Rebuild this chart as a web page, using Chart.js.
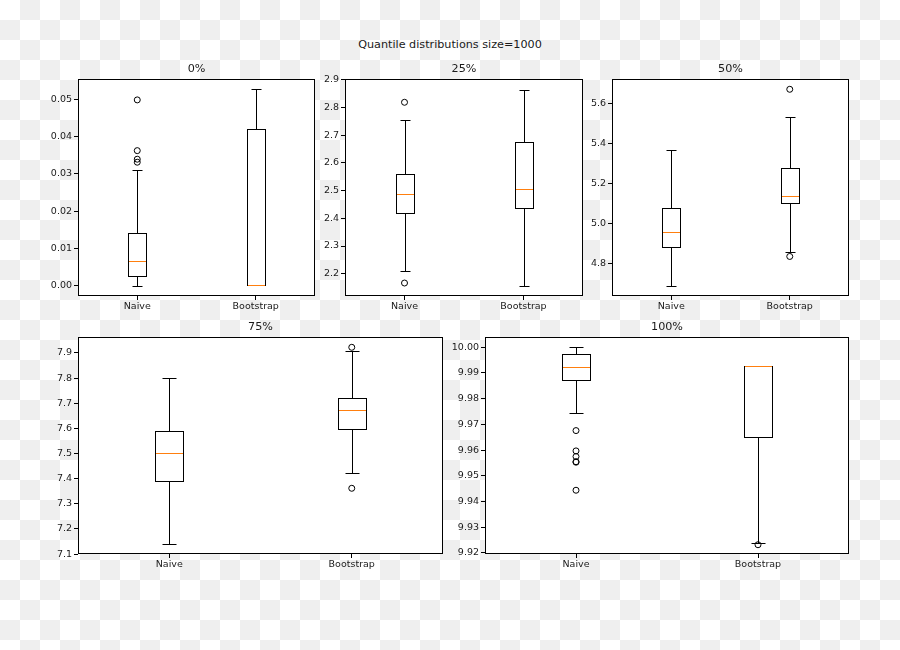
<!DOCTYPE html>
<html>
<head>
<meta charset="utf-8">
<script src="https://cdn.jsdelivr.net/npm/chart.js@4.4.1/dist/chart.umd.min.js"></script>
<style>
  html, body {
    margin: 0;
    padding: 0;
  }
  body {
    width: 900px;
    height: 650px;
    position: relative;
    overflow: hidden;
    background: repeating-conic-gradient(#efefef 0 25%, #ffffff 0 50%) 0 0 / 40px 40px;
    font-family: "DejaVu Sans", sans-serif;
  }
  #main-title {
    position: absolute;
    top: 38px;
    left: 0;
    width: 900px;
    text-align: center;
    font-size: 11.2px;
    color: #1a1a1a;
  }
  canvas {
    position: absolute;
  }
</style>
</head>
<body>
<div id="main-title">Quantile distributions size=1000</div>

<script>
// data
const categories = ["Naive", "Bootstrap"];
const titles = ["0%", "25%", "50%", "75%", "100%"];

// each row = one panel, [Naive, Bootstrap]
const whiskerLow = [[0.0, 0.0002], [2.2096, 2.1557], [4.6869, 4.8532], [7.1397, 7.424], [9.9743, 9.9239]];
const quartile1 = [[0.0027, 0.0002], [2.4206, 2.4385], [4.8798, 5.1027], [7.3896, 7.5972], [9.9874, 9.965]];
const medians = [[0.0065, 0.0002], [2.4877, 2.5045], [4.9547, 5.1376], [7.5007, 7.6712], [9.9924, 9.9928]];
const quartile3 = [[0.0142, 0.0421], [2.5596, 2.6759], [5.0778, 5.274], [7.5906, 7.7228], [9.9974, 9.9928]];
const whiskerHigh = [[0.0309, 0.0528], [2.7538, 2.864], [5.3638, 5.5301], [7.8008, 7.9066], [10.0, 9.9928]];

const outliersNaive = [[0.0331, 0.0339, 0.0362, 0.0498], [2.8185, 2.1665], [], [], [9.9676, 9.9597, 9.9575, 9.9555, 9.9553, 9.9444]];
const outliersBootstrap = [[], [], [5.6699, 4.8332], [7.9225, 7.3618], [9.9232]];

const yMin = [-0.00276, 2.1197, 4.6353, 7.1005, 9.9196];
const yMax = [0.0554, 2.9025, 5.7214, 7.9635, 10.004];
const yTicks = [
    [0.00, 0.01, 0.02, 0.03, 0.04, 0.05],
    [2.2, 2.3, 2.4, 2.5, 2.6, 2.7, 2.8, 2.9],
    [4.8, 5.0, 5.2, 5.4, 5.6],
    [7.1, 7.2, 7.3, 7.4, 7.5, 7.6, 7.7, 7.8, 7.9],
    [9.92, 9.93, 9.94, 9.95, 9.96, 9.97, 9.98, 9.99, 10.00]
];
const yDecimals = [2, 1, 1, 1, 2];

// plot area of each panel: left, top, right, bottom
const panelBoxes = [
    [78, 79, 315, 296],
    [345, 79, 583, 296],
    [612, 79, 849, 296],
    [78, 337, 443, 554],
    [485, 337, 849, 554]
];

const LEFT_SPACE = 50;
const TOP_SPACE = 25;
const BOTTOM_SPACE = 22;
const RIGHT_SPACE = 6;

function snap(v) {
    return Math.round(v) + 0.5;
}

// draws white plot background, box outlines, whiskers, medians and the frame
const boxPlotPlugin = {
    id: "boxPlot",
    beforeDraw(chart) {
        const a = chart.chartArea;
        const ctx = chart.ctx;
        ctx.save();
        ctx.fillStyle = "#ffffff";
        ctx.fillRect(a.left, a.top, a.right - a.left, a.bottom - a.top);
        ctx.restore();
    },
    afterDatasetsDraw(chart) {
        const p = chart.options.plugins.boxPlot.panel;
        const ctx = chart.ctx;
        const xs = chart.scales.x;
        const ys = chart.scales.y;
        const bars = chart.getDatasetMeta(0).data;
        ctx.save();
        ctx.lineWidth = 1;
        for (let i = 0; i < categories.length; i++) {
            const x = snap(xs.getPixelForValue(i));
            const half = Math.round(bars[i].width / 2);
            const cap = Math.round(half / 2);
            const lo = snap(ys.getPixelForValue(whiskerLow[p][i]));
            const q1 = snap(ys.getPixelForValue(quartile1[p][i]));
            const q3 = snap(ys.getPixelForValue(quartile3[p][i]));
            const hi = snap(ys.getPixelForValue(whiskerHigh[p][i]));
            const med = snap(ys.getPixelForValue(medians[p][i]));

            ctx.strokeStyle = "#000000";
            ctx.beginPath();
            ctx.moveTo(x, q1);
            ctx.lineTo(x, lo);
            ctx.moveTo(x - cap, lo);
            ctx.lineTo(x + cap, lo);
            ctx.moveTo(x, q3);
            ctx.lineTo(x, hi);
            ctx.moveTo(x - cap, hi);
            ctx.lineTo(x + cap, hi);
            ctx.stroke();

            ctx.strokeRect(x - half, q3, half * 2, q1 - q3);

            ctx.strokeStyle = "#ff7f0e";
            ctx.beginPath();
            ctx.moveTo(x - half + 0.5, med);
            ctx.lineTo(x + half - 0.5, med);
            ctx.stroke();
        }
        ctx.restore();
    },
    afterDraw(chart) {
        const p = chart.options.plugins.boxPlot.panel;
        const a = chart.chartArea;
        const ctx = chart.ctx;
        ctx.save();
        ctx.strokeStyle = "#000000";
        ctx.lineWidth = 1;
        ctx.strokeRect(Math.round(a.left) + 0.5, Math.round(a.top) + 0.5,
            Math.round(a.right - a.left) - 1, Math.round(a.bottom - a.top) - 1);
        ctx.fillStyle = "#1a1a1a";
        ctx.font = "11.2px 'DejaVu Sans'";
        ctx.textAlign = "center";
        ctx.textBaseline = "middle";
        ctx.fillText(titles[p], (a.left + a.right) / 2, a.top - 10);
        ctx.restore();
    }
};

function makePanel(p) {
    const box = panelBoxes[p];
    const canvas = document.createElement("canvas");
    const w = box[2] - box[0] + LEFT_SPACE + RIGHT_SPACE;
    const h = box[3] - box[1] + TOP_SPACE + BOTTOM_SPACE;
    canvas.style.left = (box[0] - LEFT_SPACE) + "px";
    canvas.style.top = (box[1] - TOP_SPACE) + "px";
    canvas.style.width = w + "px";
    canvas.style.height = h + "px";
    canvas.width = w;
    canvas.height = h;
    document.body.appendChild(canvas);

    const outlierPoints = [];
    outliersNaive[p].forEach(v => outlierPoints.push({ x: categories[0], y: v }));
    outliersBootstrap[p].forEach(v => outlierPoints.push({ x: categories[1], y: v }));

    new Chart(canvas.getContext("2d"), {
        type: "bar",
        data: {
            labels: categories,
            datasets: [{
                label: "box",
                data: categories.map((c, i) => [quartile1[p][i], quartile3[p][i]]),
                backgroundColor: "#ffffff",
                borderWidth: 0,
                barPercentage: 0.15,
                categoryPercentage: 1
            }, {
                type: "scatter",
                label: "outliers",
                data: outlierPoints,
                pointRadius: 3,
                pointBackgroundColor: "rgba(0,0,0,0)",
                pointBorderColor: "#000000",
                pointBorderWidth: 1
            }]
        },
        options: {
            responsive: false,
            animation: false,
            layout: {
                padding: { top: TOP_SPACE, right: RIGHT_SPACE, left: 0, bottom: 0 }
            },
            plugins: {
                legend: { display: false },
                tooltip: { enabled: false },
                boxPlot: { panel: p }
            },
            scales: {
                x: {
                    type: "category",
                    offset: true,
                    grid: {
                        offset: false,
                        drawOnChartArea: false,
                        tickLength: 4,
                        color: "#000000"
                    },
                    border: { display: false },
                    ticks: {
                        color: "#1a1a1a",
                        font: { family: "DejaVu Sans", size: 9.5 },
                        padding: 1,
                        maxRotation: 0
                    },
                    afterFit(scale) {
                        scale.height = BOTTOM_SPACE;
                    }
                },
                y: {
                    min: yMin[p],
                    max: yMax[p],
                    grid: {
                        drawOnChartArea: false,
                        tickLength: 4,
                        color: "#000000"
                    },
                    border: { display: false },
                    ticks: {
                        color: "#1a1a1a",
                        font: { family: "DejaVu Sans", size: 9.5 },
                        padding: 2,
                        callback: v => v.toFixed(yDecimals[p])
                    },
                    afterBuildTicks(scale) {
                        scale.ticks = yTicks[p].map(v => ({ value: v }));
                    },
                    afterFit(scale) {
                        scale.width = LEFT_SPACE;
                    }
                }
            }
        },
        plugins: [boxPlotPlugin]
    });
}

for (let p = 0; p < titles.length; p++) {
    makePanel(p);
}
</script>
</body>
</html>
